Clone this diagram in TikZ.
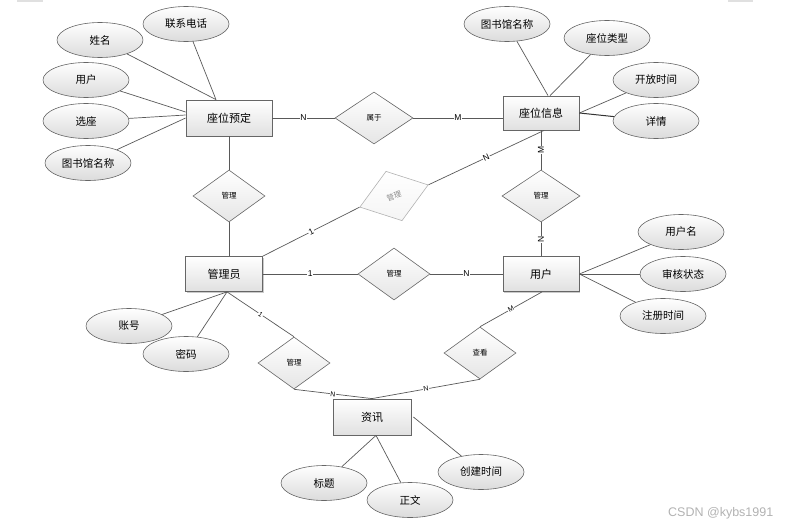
\documentclass[tikz,border=0pt]{standalone}
\usepackage{fontspec}
\setmainfont{Liberation Sans}
\newfontfamily\cjk{Noto Sans CJK SC}
\usetikzlibrary{shapes.geometric,shadows}
\begin{document}
\begin{tikzpicture}[x=1pt,y=-1pt,
 line/.style={draw=black!65,line width=0.7pt},
 ent/.style={draw=black!60,line width=0.8pt,top color=white,bottom color=black!12,
   minimum width=77pt,minimum height=35pt,inner sep=0pt,
   drop shadow={shadow xshift=1pt,shadow yshift=-1pt,fill=black!35,opacity=0.6},
   font=\cjk\fontsize{11}{12}\selectfont},
 attr/.style={ellipse,draw=black!60,line width=0.6pt,top color=white,bottom color=black!14,
   minimum width=86pt,minimum height=35pt,inner sep=0pt,font=\cjk\fontsize{10.5}{12}\selectfont},
 rel/.style={diamond,draw=black!60,line width=0.6pt,top color=white,bottom color=black!10,
   minimum width=72pt,minimum height=52pt,inner sep=0pt,font=\cjk\fontsize{7.5}{9}\selectfont},
 lab/.style={fill=white,inner sep=0.6pt,font=\fontsize{8.5}{9}\selectfont}]
\useasboundingbox (0,0) rectangle (792,527);
\fill[black!12] (17,0) rectangle (43,2);
\fill[black!12] (728,0) rectangle (753,2);

% entities
\node[ent,minimum width=86pt,minimum height=36pt] (zwyd) at (229,118) {座位预定};
\node[ent,minimum width=76pt,minimum height=34pt] (zwxx) at (541,113) {座位信息};
\node[ent] (gly) at (224,274) {管理员};
\node[ent,minimum width=76pt] (yh) at (541,274) {用户};
\node[ent,minimum width=78pt,minimum height=36pt] (zx) at (372,417) {资讯};

% relationships
\node[rel,minimum width=78pt] (sy) at (374,118) {属于};
\node[rel] (gl1) at (229,196) {管理};
\node[rel,draw=black!30,text=black!45,rotate=18,bottom color=black!4] (gl2) at (394,196) {管理};
\node[rel,minimum width=78pt] (gl3) at (541,196) {管理};
\node[rel] (gl4) at (394,274) {管理};
\node[rel] (gl5) at (294,363) {管理};
\node[rel] (ck) at (480,353) {查看};

% attributes
\node[attr] (xm) at (100,40) {姓名};
\node[attr] (lxdh) at (186,24) {联系电话};
\node[attr] (yh1) at (86,80) {用户};
\node[attr] (xz) at (86,121) {选座};
\node[attr] (tsg1) at (88,163) {图书馆名称};
\node[attr] (tsg2) at (507,24) {图书馆名称};
\node[attr] (zwlx) at (607,38) {座位类型};
\node[attr] (kfsj) at (656,80) {开放时间};
\node[attr] (xq) at (656,121) {详情};
\node[attr] (yhm) at (681,232) {用户名};
\node[attr] (shzt) at (683,274) {审核状态};
\node[attr] (zcsj) at (663,316) {注册时间};
\node[attr] (zh) at (129,326) {账号};
\node[attr] (mm) at (186,354) {密码};
\node[attr] (bt) at (324,483) {标题};
\node[attr] (zw) at (410,500) {正文};
\node[attr] (cjsj) at (481,472) {创建时间};

% attribute connectors
\draw[line] (xm) -- ([xshift=-13pt]zwyd.north);
\draw[line] (lxdh) -- ([xshift=-13pt]zwyd.north);
\draw[line] (yh1) -- ([yshift=6pt]zwyd.west);
\draw[line] (xz) -- ([yshift=3pt]zwyd.west);
\draw[line] (tsg1) -- (zwyd.west);
\draw[line] (tsg2) -- ([xshift=7pt]zwxx.north);
\draw[line] (zwlx) -- ([xshift=9pt]zwxx.north);
\draw[line] (kfsj) -- (zwxx.east);
\draw[line,line width=1pt,draw=black!80] (xq) -- (zwxx.east);
\draw[line] (yhm) -- (yh.east);
\draw[line] (shzt) -- (yh.east);
\draw[line] (zcsj) -- (yh.east);
\coordinate (gb) at ([xshift=3pt]gly.south);
\draw[line] (zh) -- (gb);
\draw[line] (mm) -- (gb);
\draw[line] (bt) -- ([xshift=4pt]zx.south);
\draw[line] (zw) -- ([xshift=4pt]zx.south);
\draw[line] (cjsj) -- ([xshift=2pt]zx.east);

% relationship connectors
\draw[line] (zwyd) -- node[lab]{N} (sy);
\draw[line] (sy.east) -- node[lab]{M} (sy.east -| zwxx.west);
\draw[line] (zwyd) -- (gl1);
\draw[line] (gl1.south) -- (gl1.south |- gly.north);
\draw[line] (zwxx) -- node[lab,rotate=90]{M} (gl3);
\draw[line] (gl3) -- node[lab,rotate=90]{N} (yh);
\draw[line] ([xshift=3pt]zwxx.south) -- node[lab,sloped]{N} (gl2.east);
\draw[line] (gly.north east) -- node[lab,sloped]{1} (gl2.west);
\draw[line] (gly) -- node[lab]{1} (gl4);
\draw[line] (gl4) -- node[lab]{N} (yh);
\draw[line] (gb) -- node[lab,sloped,font=\fontsize{7}{8}\selectfont]{1} (gl5.north);
\draw[line] (gl5.south) -- node[lab,sloped,font=\fontsize{7}{8}\selectfont]{N} (zx.north);
\draw[line] (ck.south) -- node[lab,sloped,font=\fontsize{7}{8}\selectfont]{N} (zx.north);
\draw[line] ([xshift=1pt]yh.south) -- node[lab,sloped,font=\fontsize{7}{8}\selectfont]{M} (ck.north);

\node[text=black!30,font=\fontsize{12.5}{14}\selectfont,anchor=west,inner sep=0pt] (wm) at (668,513) {CSDN @kybs1991};
\end{tikzpicture}
\end{document}
